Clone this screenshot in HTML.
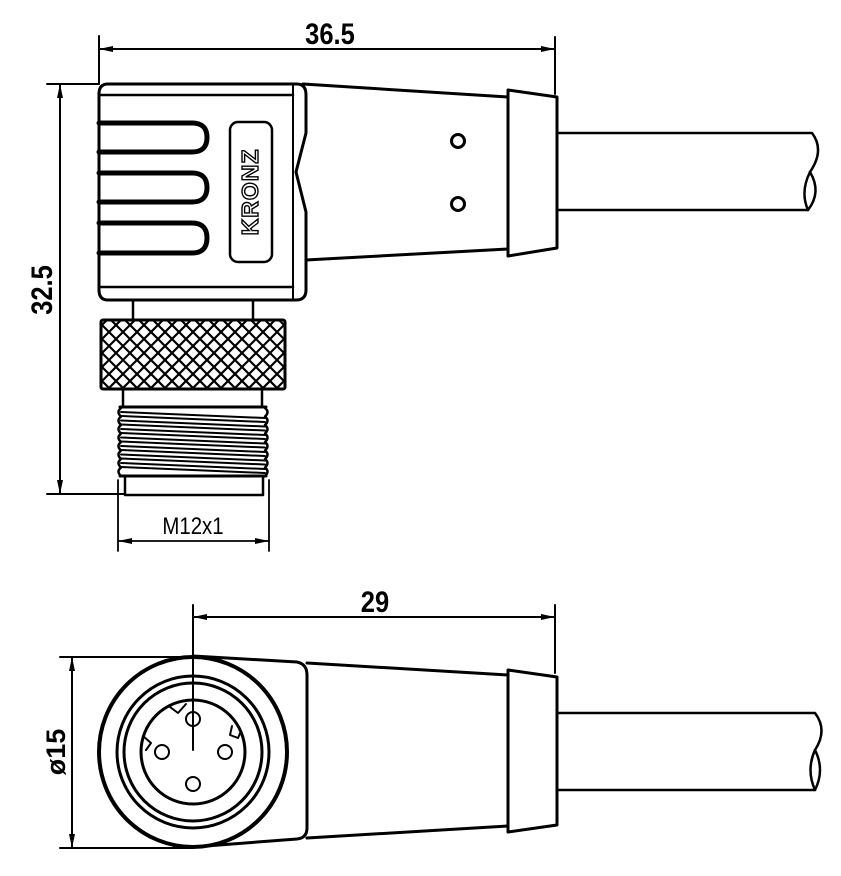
<!DOCTYPE html>
<html><head><meta charset="utf-8"><style>html,body{margin:0;padding:0;background:#fff}svg{display:block}</style></head><body>
<svg width="841" height="876" viewBox="0 0 841 876" xmlns="http://www.w3.org/2000/svg">
<defs>
<clipPath id="kn"><rect x="101" y="320" width="184" height="69"/></clipPath>
<marker id="ar" viewBox="0 0 14 6" refX="14" refY="3" markerWidth="14" markerHeight="6" markerUnits="userSpaceOnUse" orient="auto-start-reverse"><path d="M0,0 L14,3 L0,6 z" fill="#000"/></marker>
</defs>
<g fill="none" stroke="#000" stroke-linecap="round" stroke-linejoin="round">
<line x1="99" y1="36" x2="99" y2="84" stroke-width="2"/>
<line x1="555" y1="37" x2="555" y2="94" stroke-width="2"/>
<line x1="99" y1="49" x2="555" y2="49" stroke-width="2" marker-start="url(#ar)" marker-end="url(#ar)"/>
<line x1="47" y1="84" x2="99" y2="84" stroke-width="2"/>
<line x1="47" y1="494" x2="125" y2="494" stroke-width="2"/>
<line x1="60" y1="84" x2="60" y2="494" stroke-width="2" marker-start="url(#ar)" marker-end="url(#ar)"/>
<path d="M108,84 L297,84 Q306,84 306,95 L306,133 L296,172 L306,212 L306,290 Q306,300 296,300 L108,300 Q99,300 99,290 L99,94 Q99,84 108,84 Z" stroke-width="3"/>
<line x1="293" y1="86" x2="293" y2="298" stroke-width="2"/>
<line x1="101" y1="95" x2="293" y2="95" stroke-width="2.5"/>
<line x1="101" y1="287" x2="293" y2="287" stroke-width="2.5"/>
<path d="M99,123 L192,123 Q207,123 207,137.5 Q207,152 192,152 L99,152" stroke-width="5"/>
<path d="M99,173 L192,173 Q207,173 207,187.5 Q207,202 192,202 L99,202" stroke-width="5"/>
<path d="M99,223 L192,223 Q207,223 207,238 Q207,253 192,253 L99,253" stroke-width="5"/>
<rect x="230" y="122" width="42" height="140" rx="8" stroke-width="2.5"/>
<path d="M303,84 L508,97" stroke-width="3"/>
<path d="M306,260 L508,249" stroke-width="3"/>
<path d="M508,90 L557,97 L557,248 L508,256 Z" stroke-width="3"/>
<circle cx="458" cy="141" r="6.5" stroke-width="3"/>
<circle cx="458" cy="204" r="6.5" stroke-width="3"/>
<path d="M557,133 L812,133 Q825,150 810,172 Q800,192 808,210 L557,210" stroke-width="2.5"/>
<path d="M810,172 Q822,192 808,210" stroke-width="2.5"/>
<line x1="133" y1="300" x2="133" y2="321" stroke-width="2.5"/>
<line x1="253" y1="300" x2="253" y2="321" stroke-width="2.5"/>
<g clip-path="url(#kn)" stroke-width="2.2">
<path d="M27,320 l69,69 M41,320 l69,69 M55,320 l69,69 M69,320 l69,69 M83,320 l69,69 M97,320 l69,69 M111,320 l69,69 M125,320 l69,69 M139,320 l69,69 M153,320 l69,69 M167,320 l69,69 M181,320 l69,69 M195,320 l69,69 M209,320 l69,69 M223,320 l69,69 M237,320 l69,69 M251,320 l69,69 M265,320 l69,69 M279,320 l69,69"/>
<path d="M107,320 l-69,69 M121,320 l-69,69 M135,320 l-69,69 M149,320 l-69,69 M163,320 l-69,69 M177,320 l-69,69 M191,320 l-69,69 M205,320 l-69,69 M219,320 l-69,69 M233,320 l-69,69 M247,320 l-69,69 M261,320 l-69,69 M275,320 l-69,69 M289,320 l-69,69 M303,320 l-69,69 M317,320 l-69,69 M331,320 l-69,69 M345,320 l-69,69 M359,320 l-69,69"/>
</g>
<rect x="101" y="320" width="184" height="69" rx="2" stroke-width="3"/>
<line x1="123" y1="389" x2="123" y2="407" stroke-width="2.5"/>
<line x1="262" y1="389" x2="262" y2="407" stroke-width="2.5"/>
<line x1="120" y1="407" x2="266" y2="407" stroke-width="3"/>
<path d="M121,408 q-5,4 0,8.5 q-5,4 0,8.5 q-5,4 0,8.5 q-5,4 0,8.5 q-5,4 0,8.5 q-5,4 0,8.5 q-5,4 0,8.5 q-5,4 0,8.5" stroke-width="2.5"/>
<path d="M265,408 q5,4 0,8.5 q5,4 0,8.5 q5,4 0,8.5 q5,4 0,8.5 q5,4 0,8.5 q5,4 0,8.5 q5,4 0,8.5 q5,4 0,8.5" stroke-width="2.5"/>
<g stroke-width="2">
<path d="M121,412 L265,418 M121,416 L265,422 M121,420.5 L265,426.5 M121,424.5 L265,430.5 M121,429 L265,435 M121,433 L265,439 M121,437.5 L265,443.5 M121,441.5 L265,447.5 M121,446 L265,452 M121,450 L265,456 M121,454.5 L265,460.5 M121,458.5 L265,464.5 M121,463 L265,469 M121,467 L265,473"/>
</g>
<line x1="120" y1="476" x2="266" y2="476" stroke-width="3"/>
<path d="M125,477 L125,495 L263,495 L263,477" stroke-width="2.5"/>
<line x1="118" y1="480" x2="118" y2="551" stroke-width="1.8"/>
<line x1="269" y1="480" x2="269" y2="551" stroke-width="1.8"/>
<line x1="118" y1="541" x2="269" y2="541" stroke-width="1.8" marker-start="url(#ar)" marker-end="url(#ar)"/>

<line x1="193" y1="605" x2="193" y2="750" stroke-width="2"/>
<line x1="555" y1="605" x2="555" y2="673" stroke-width="2"/>
<line x1="193" y1="617" x2="555" y2="617" stroke-width="2" marker-start="url(#ar)" marker-end="url(#ar)"/>
<line x1="60" y1="657" x2="193" y2="657" stroke-width="2"/>
<line x1="60" y1="848" x2="193" y2="848" stroke-width="2"/>
<line x1="72" y1="657" x2="72" y2="848" stroke-width="2" marker-start="url(#ar)" marker-end="url(#ar)"/>
<path d="M193,656 L297,662 Q307,664 307,675 L307,828 Q307,838 297,839 L193,847" stroke-width="3"/>
<path d="M307,663 L508,675" stroke-width="3"/>
<path d="M307,838 L508,826" stroke-width="3"/>
<path d="M508,670 L557,677 L557,825 L508,832 Z" stroke-width="3"/>
<path d="M557,713 L815,713 Q828,730 815,750 Q806,770 815,790 L557,790" stroke-width="2.5"/>
<path d="M815,750 Q825,770 815,790" stroke-width="2.5"/>
<ellipse cx="193" cy="752" rx="94" ry="95" stroke-width="4"/>
<circle cx="193" cy="752" r="76" stroke-width="3"/>
<circle cx="193" cy="752" r="69" stroke-width="3"/>
<circle cx="193" cy="752" r="52" stroke-width="3"/>
<circle cx="193" cy="719" r="7" stroke-width="2"/>
<circle cx="162" cy="752" r="7" stroke-width="2"/>
<circle cx="225" cy="752" r="7" stroke-width="2"/>
<circle cx="193" cy="784" r="7" stroke-width="2"/>
<path d="M170,707 L178,713 L186,704" stroke-width="2"/>
<path d="M143,736 L151,743 L146,750" stroke-width="2"/>
<path d="M232,726 L230,735 L238,738 L241,731" stroke-width="2"/>
</g>
<g font-family="'Liberation Sans', sans-serif" fill="#000">
<text x="330" y="44" font-size="30" font-weight="bold" text-anchor="middle" transform="translate(330,0) scale(0.85,1) translate(-330,0)">36.5</text>
<text transform="translate(52,290) rotate(-90) scale(0.85,1)" font-size="30" font-weight="bold" text-anchor="middle">32.5</text>
<text x="193" y="534" font-size="24" text-anchor="middle" transform="translate(193,0) scale(0.85,1) translate(-193,0)">M12x1</text>
<text x="375" y="612" font-size="30" font-weight="bold" text-anchor="middle" transform="translate(375,0) scale(0.85,1) translate(-375,0)">29</text>
<text transform="translate(65,752) rotate(-90)" font-size="27" font-weight="bold" text-anchor="middle">ø15</text>
<text transform="translate(258,192) rotate(-90)" font-size="23" font-weight="bold" text-anchor="middle" fill="#fff" stroke="#000" stroke-width="1.4" letter-spacing="1">KRONZ</text>
</g>
</svg>
</body></html>
